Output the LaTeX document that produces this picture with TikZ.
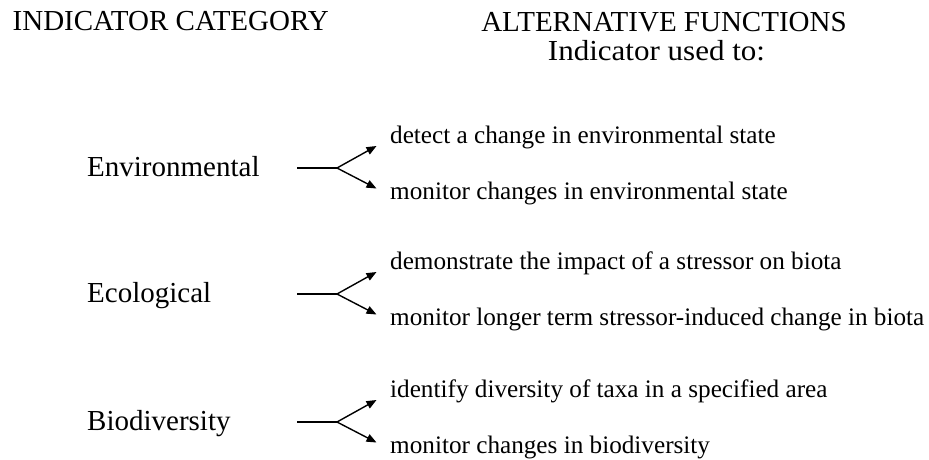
\documentclass[tikz,border=0pt]{standalone}
\usepackage{fontspec}
\setmainfont{Liberation Serif}
\usetikzlibrary{arrows.meta}
\begin{document}
\begin{tikzpicture}[x=1pt,y=-1pt,
  head/.style={inner sep=0pt,font=\fontsize{29}{34}\selectfont},
  cat/.style={inner sep=0pt,anchor=base west,font=\fontsize{29}{34}\selectfont},
  func/.style={inner sep=0pt,anchor=base west,font=\fontsize{25.2}{30}\selectfont},
  stem/.style={line width=1.4pt},
  branch/.style={line width=1.4pt,-{Triangle[length=10pt,width=8pt]}}]
\useasboundingbox (0,0) rectangle (929,460);
% headings
\node[head,anchor=base west] (hcat) at (12.5,30.5) {INDICATOR CATEGORY};
\node[head,anchor=base] (hfun) at (664,31.5) {ALTERNATIVE FUNCTIONS};
\node[head,anchor=base] (husd) at (656.5,61) {\scalebox{1.07}[1]{Indicator used to:}};
% rows
\foreach \name/\ly/\lab/\ta/\tb in {
  env/168/Environmental/detect a change in environmental state/monitor changes in environmental state,
  eco/294/Ecological/demonstrate the impact of a stressor on biota/monitor longer term stressor-induced change in biota,
  bio/422/Biodiversity/identify diversity of taxa in a specified area/monitor changes in biodiversity}{
  \node[cat] (\name) at (87,\ly+8.5) {\lab};
  \node[func] (\name a) at (390,\ly-25) {\ta};
  \node[func] (\name b) at (390,\ly+31) {\tb};
  \coordinate (\name s) at (297,\ly);
  \coordinate (\name j) at (337,\ly);
  \coordinate (\name u) at (376.5,\ly-22);
  \coordinate (\name d) at (376.5,\ly+20.5);
  \draw[stem] (\name s) -- (\name j);
  \draw[branch] (\name j) -- (\name u);
  \draw[branch] (\name j) -- (\name d);
}
\end{tikzpicture}
\end{document}
